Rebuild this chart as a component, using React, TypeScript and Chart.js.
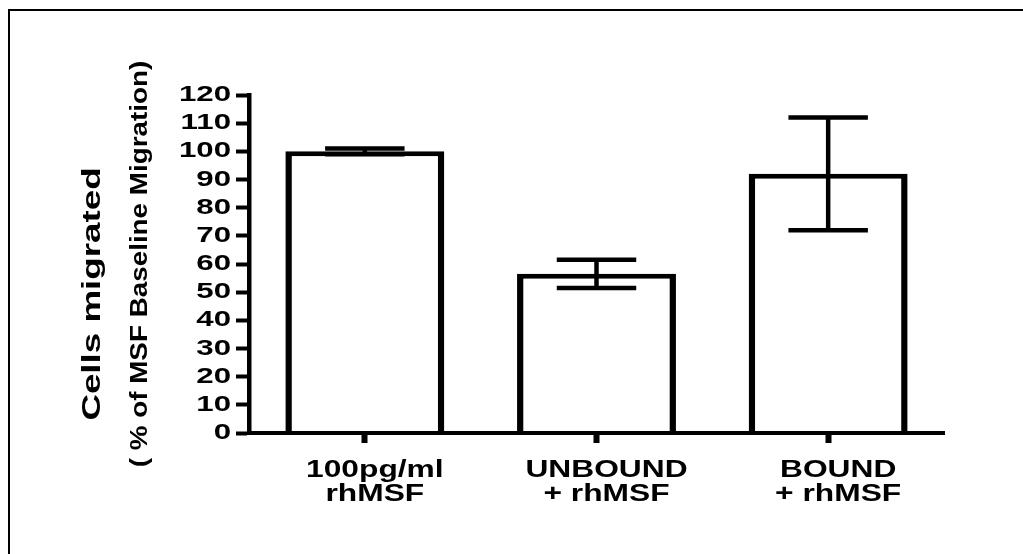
import React, { useEffect, useRef } from 'react';
import { Chart, registerables } from 'chart.js';

Chart.register(...registerables);

// ---- data ----
const categories: string[][] = [
  ['100pg/ml', 'rhMSF'],
  ['UNBOUND', '+ rhMSF'],
  ['BOUND', '+ rhMSF'],
];
const meanValues: number[] = [100, 56.5, 92];
const semValues: number[] = [1.0, 5, 20];
const yMin = 0;
const yMax = 120;
const yStep = 10;
const yTitleOuter = 'Cells migrated';
const yTitleInner = '( % of MSF Baseline Migration)';

const FONT = "'Liberation Sans', Arial, Helvetica, sans-serif";

// The original export draws its text horizontally stretched; reproduce this by
// scaling each glyph run along its own direction around its anchor point.
const stretchPlugin = {
  id: 'textStretch',
  beforeDraw(chart: any) {
    const ctx = chart.ctx;
    const wrap = (obj: any, method: string, k: number, dy = 0) => {
      if (!obj || obj['__wrapped_' + method]) return;
      const orig = obj[method];
      obj[method] = function (...args: any[]) {
        const protoFill = CanvasRenderingContext2D.prototype.fillText;
        (ctx as any).fillText = function (text: string, x: number, y: number, maxWidth?: number) {
          ctx.save();
          ctx.translate(x, y);
          ctx.scale(k, 1);
          if (maxWidth !== undefined && maxWidth !== null) protoFill.call(ctx, text, 0, 0, maxWidth / k);
          else protoFill.call(ctx, text, 0, 0);
          ctx.restore();
        };
        ctx.save();
        if (dy) ctx.translate(0, dy);
        try {
          return orig.apply(this, args);
        } finally {
          ctx.restore();
          delete (ctx as any).fillText;
        }
      };
      obj['__wrapped_' + method] = true;
    };
    wrap(chart.scales.x, 'drawLabels', 1.38);
    wrap(chart.scales.y, 'drawLabels', 1.42);
    wrap(chart.scales.y, 'drawTitle', 1.21);
    wrap(chart.scales.y2, 'drawTitle', 1.47, 30);
  },
};

const errorBarPlugin = {
  id: 'errorBars',
  afterDatasetsDraw(chart: any) {
    const ctx = chart.ctx;
    const meta = chart.getDatasetMeta(0);
    const yScale = chart.scales.y;
    ctx.save();
    ctx.strokeStyle = '#000';
    ctx.lineCap = 'butt';
    meta.data.forEach((bar: any, i: number) => {
      const hi = yScale.getPixelForValue(meanValues[i] + semValues[i]);
      const lo = yScale.getPixelForValue(meanValues[i] - semValues[i]);
      const half = bar.width * 0.25;
      ctx.lineWidth = 4.5;
      ctx.beginPath();
      ctx.moveTo(bar.x, hi);
      ctx.lineTo(bar.x, lo);
      ctx.stroke();
      ctx.lineWidth = 4.5;
      ctx.beginPath();
      ctx.moveTo(bar.x - half, hi);
      ctx.lineTo(bar.x + half, hi);
      ctx.moveTo(bar.x - half, lo);
      ctx.lineTo(bar.x + half, lo);
      ctx.stroke();
    });
    ctx.restore();
  },
};

export default function App() {
  const ref = useRef<HTMLCanvasElement>(null);

  useEffect(() => {
    if (!ref.current) return;
    const chart = new Chart(ref.current, {
      type: 'bar',
      data: {
        labels: categories,
        datasets: [
          {
            data: meanValues,
            backgroundColor: '#ffffff',
            borderColor: '#000000',
            borderWidth: { top: 5, left: 6.5, right: 6.5, bottom: 0 } as any,
            borderSkipped: 'start',
            barPercentage: 0.686,
            categoryPercentage: 1,
          },
        ],
      },
      options: {
        responsive: false,
        animation: false,
        devicePixelRatio: 1,
        events: [],
        layout: { padding: { left: 0, top: 95, right: 79, bottom: 0 } },
        plugins: {
          legend: { display: false },
          tooltip: { enabled: false },
          title: { display: false },
        },
        scales: {
          x: {
            type: 'category',
            offset: true,
            grid: {
              display: true,
              offset: false,
              drawOnChartArea: false,
              drawTicks: true,
              tickLength: 10,
              tickWidth: 6,
              tickColor: '#000',
            },
            border: { display: true, color: '#000', width: 4, z: 1 },
            ticks: {
              color: '#000',
              font: { family: FONT, size: 23, weight: 'bold', lineHeight: 1.07 },
              padding: 15,
              maxRotation: 0,
              minRotation: 0,
              autoSkip: false,
              labelOffset: 10,
            },
            afterFit: (s: any) => {
              s.height = 121;
            },
          },
          y: {
            type: 'linear',
            position: 'left',
            weight: 0,
            min: yMin,
            max: yMax,
            ticks: {
              stepSize: yStep,
              autoSkip: false,
              color: '#000',
              font: { family: FONT, size: 22, weight: 'bold', lineHeight: 1 },
              padding: 5,
            },
            grid: {
              display: true,
              drawOnChartArea: false,
              drawTicks: true,
              tickLength: 13,
              tickWidth: 4,
              tickColor: '#000',
            },
            border: { display: true, color: '#000', width: 4.5, z: 1 },
            title: {
              display: true,
              text: yTitleInner,
              color: '#000',
              font: { family: FONT, size: 23, weight: 'bold', lineHeight: 1.2 },
              padding: { top: 10, bottom: 0 },
            },
            afterFit: (s: any) => {
              s.width = 132;
            },
          },
          y2: {
            type: 'linear',
            position: 'left',
            weight: 1,
            display: true,
            grid: { display: false },
            border: { display: false },
            ticks: { display: false },
            title: {
              display: true,
              text: yTitleOuter,
              color: '#000',
              font: { family: FONT, size: 25, weight: 'bold', lineHeight: 1.2 },
              padding: { top: 78, bottom: 0 },
            },
            afterFit: (s: any) => {
              s.width = 117;
            },
          },
        } as any,
      },
      plugins: [stretchPlugin, errorBarPlugin],
    });
    return () => chart.destroy();
  }, []);

  return (
    <div style={{ position: 'absolute', left: 0, top: 0, width: 1023, height: 554 }}>
      <div
        style={{
          position: 'absolute',
          left: 8,
          top: 9,
          width: 1013,
          height: 543,
          borderTop: '2px solid #000',
          borderLeft: '2px solid #000',
        }}
      />
      <canvas
        ref={ref}
        width={1023}
        height={554}
        style={{ position: 'absolute', left: 0, top: 0, display: 'block' }}
      />
    </div>
  );
}
